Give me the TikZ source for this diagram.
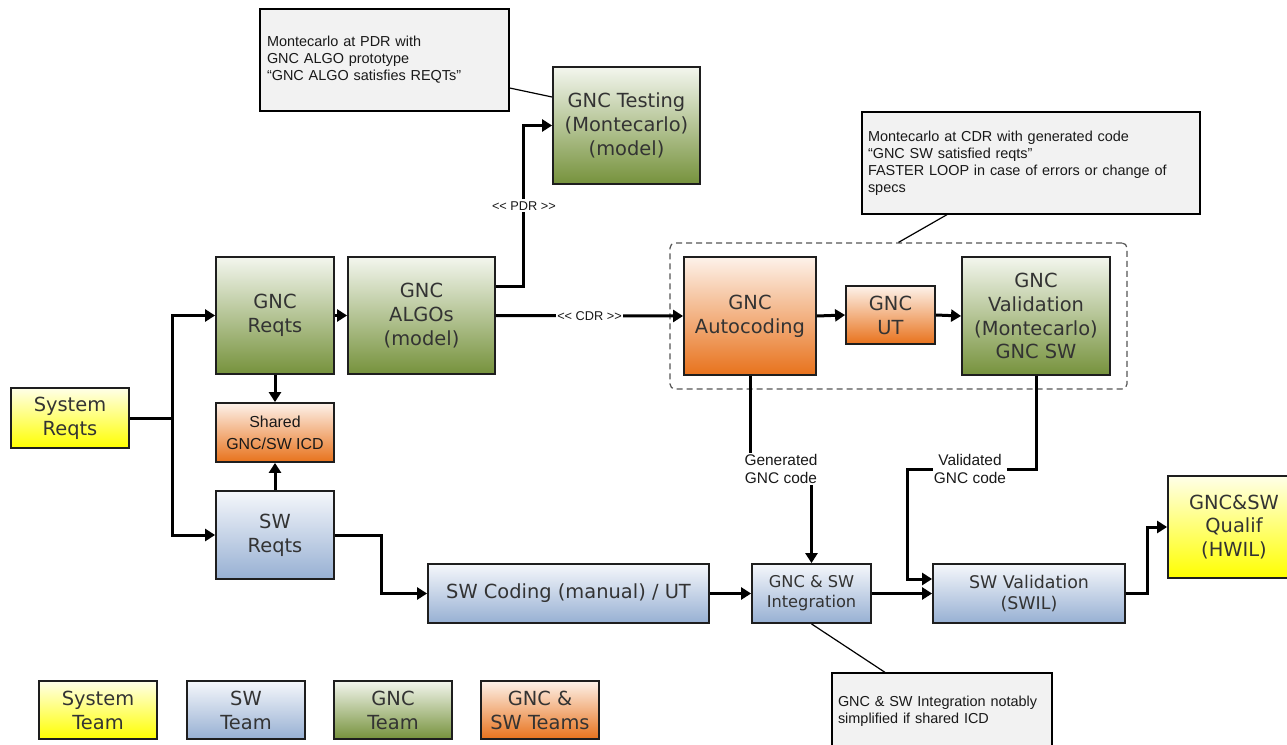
\documentclass[tikz,border=0pt]{standalone}
\usepackage{fontspec}
\setmainfont{DejaVu Sans}
\newfontfamily\arialf{Liberation Sans}
\usetikzlibrary{arrows.meta,calc}

\definecolor{txt}{HTML}{333333}
\definecolor{bord}{HTML}{1E1E1E}
\definecolor{gtop}{HTML}{F3F6EE}
\definecolor{gbot}{HTML}{76923C}
\definecolor{otop}{HTML}{FDF2EA}
\definecolor{obot}{HTML}{E8721C}
\definecolor{btop}{HTML}{F5F7FB}
\definecolor{bbot}{HTML}{97B0D3}
\definecolor{ytop}{HTML}{FFFFE8}
\definecolor{ybot}{HTML}{FFFF00}
\definecolor{cfill}{HTML}{F2F2F2}
\definecolor{dashc}{HTML}{555555}

\tikzset{
  box/.style={draw=bord, line width=1.8bp, inner sep=0pt, align=center, text=txt,
    font=\fontsize{19.5}{24}\selectfont},
  gbox/.style={box, top color=gtop, bottom color=gbot},
  obox/.style={box, top color=otop, bottom color=obot},
  bbox/.style={box, top color=btop, bottom color=bbot},
  ybox/.style={box, top color=ytop, bottom color=ybot},
  conn/.style={line width=3bp, draw=black},
  arr/.style={conn, -{Triangle[length=10bp,width=12bp]}},
  callout/.style={draw=black, line width=1.3bp, fill=cfill, align=left, text=black!90,
    font=\arialf\fontsize{14.5}{17}\selectfont, inner xsep=7bp},
  pointer/.style={draw=black, line width=1.2bp},
  lbl/.style={fill=white, inner sep=1bp, align=center, text=black!90,
    font=\arialf\fontsize{15.5}{19}\selectfont},
  gatelbl/.style={fill=white, inner xsep=1bp, inner ysep=2bp, text=black!90,
    font=\arialf\fontsize{12.8}{15}\selectfont},
  group/.style={draw=dashc, line width=1.2bp, dash pattern=on 6bp off 4bp, rounded corners=5bp}
}

\begin{document}
\begin{tikzpicture}[x=1bp,y=-1bp]
\useasboundingbox (0,0) rectangle (1287,745);
\clip (0,0) rectangle (1287,745);
\fill[white] (0,0) rectangle (1287,745);

% dashed group
\node[group, minimum width=457bp, minimum height=146bp] (grp) at (898.5,316) {};

% main boxes
\node[ybox, minimum width=118bp, minimum height=60bp] (sys) at (70,418) {System\\Reqts};
\node[gbox, minimum width=118bp, minimum height=117bp] (gncreq) at (275,315.5) {GNC\\Reqts};
\node[gbox, minimum width=147bp, minimum height=117bp] (algos) at (421.5,315.5) {GNC\\ALGOs\\(model)};
\node[obox, minimum width=118bp, minimum height=59bp, text=black!90,
      font=\arialf\fontsize{16}{22}\selectfont] (icd) at (275,432.5) {Shared\\GNC/SW ICD};
\node[bbox, minimum width=118bp, minimum height=88bp] (swreq) at (275,535) {SW\\Reqts};
\node[gbox, minimum width=147bp, minimum height=117bp] (testing) at (626.5,125.5) {GNC Testing\\(Montecarlo)\\(model)};
\node[obox, minimum width=132bp, minimum height=118bp] (auto) at (750,316) {GNC\\Autocoding};
\node[obox, minimum width=89bp, minimum height=58bp] (ut) at (890.5,315) {GNC\\UT};
\node[gbox, minimum width=148bp, minimum height=118bp] (val) at (1036,316) {GNC\\Validation\\(Montecarlo)\\GNC SW};
\node[bbox, minimum width=281bp, minimum height=59bp] (coding) at (568.5,593.5) {SW Coding (manual) / UT};
\node[bbox, minimum width=119bp, minimum height=59bp, font=\fontsize{16.3}{20}\selectfont] (integ) at (811.5,593.5) {GNC \& SW\\Integration};
\node[bbox, minimum width=192bp, minimum height=59bp, font=\fontsize{17.5}{22}\selectfont] (swval) at (1029,593.5) {SW Validation\\(SWIL)};
\node[ybox, minimum width=132bp, minimum height=102bp] (qual) at (1234,527) {GNC\&SW\\Qualif\\(HWIL)};

% legend
\node[ybox, minimum width=118bp, minimum height=58bp] (legsys) at (98,710) {System\\Team};
\node[bbox, minimum width=118bp, minimum height=58bp] (legsw) at (246,710) {SW\\Team};
\node[gbox, minimum width=118bp, minimum height=58bp] (leggnc) at (393,710) {GNC\\Team};
\node[obox, minimum width=118bp, minimum height=58bp] (legboth) at (540,710) {GNC \&\\SW Teams};

% callouts
\node[callout, text width=235bp, minimum height=102bp] (pdr) at (384.5,60)
  {Montecarlo at PDR with\\GNC ALGO prototype\\“GNC ALGO satisfies REQTs”};
\node[callout, inner xsep=6bp, text width=326bp, minimum height=102bp] (cdr) at (1031,163)
  {Montecarlo at CDR with generated code\\“GNC SW satisfied reqts”\\FASTER LOOP in case of errors or change of\\specs};
\node[callout, inner xsep=6bp, text width=208bp, minimum height=76bp] (intc) at (942,711)
  {GNC \& SW Integration notably\\simplified if shared ICD};

\draw[pointer] ([yshift=-28bp]pdr.east) -- ([yshift=28.5bp]testing.west);
\draw[pointer] ([xshift=-84bp]cdr.south) -- (grp.north);
\draw[pointer] (integ.south) -- ([xshift=-57bp]intc.north);

% connectors
\coordinate (split) at (172,418);
\draw[conn] (sys.east) -- (split);
\draw[arr] (split) |- (gncreq.west);
\draw[arr] (split) |- (swreq.west);
\draw[arr] (gncreq.east) -- (algos.west);
\draw[arr] (gncreq.south) -- (icd.north);
\draw[arr] (swreq.north) -- (icd.south);
\draw[arr] ([yshift=29.5bp]algos.east) -- ++(28,0) |- node[pos=0.25, gatelbl] {<\kern0pt< PDR >\kern0pt>} (testing.west);
\draw[arr] (algos.east) -- node[gatelbl] {<\kern0pt< CDR >\kern0pt>} (auto.west);
\draw[arr] (auto.east) -- (ut.west);
\draw[arr] (ut.east) -- (val.west);
\draw[arr] (swreq.east) -- ++(47,0) |- (coding.west);
\draw[arr] (coding.east) -- (integ.west);
\draw[arr] (integ.east) -- (swval.west);
\draw[arr] (swval.east) -- ++(22,0) |- (qual.west);

\coordinate (gmid) at (781,469);
\draw[arr] (auto.south) |- (gmid) -| (integ.north);
\node[lbl] at (gmid) {Generated\\GNC code};

\coordinate (vmid) at (970,469);
\coordinate (vturn) at (907,469);
\draw[arr] (val.south) |- (vturn) |- ([yshift=14.5bp]swval.west);
\node[lbl] at (vmid) {Validated\\GNC code};
\end{tikzpicture}
\end{document}
